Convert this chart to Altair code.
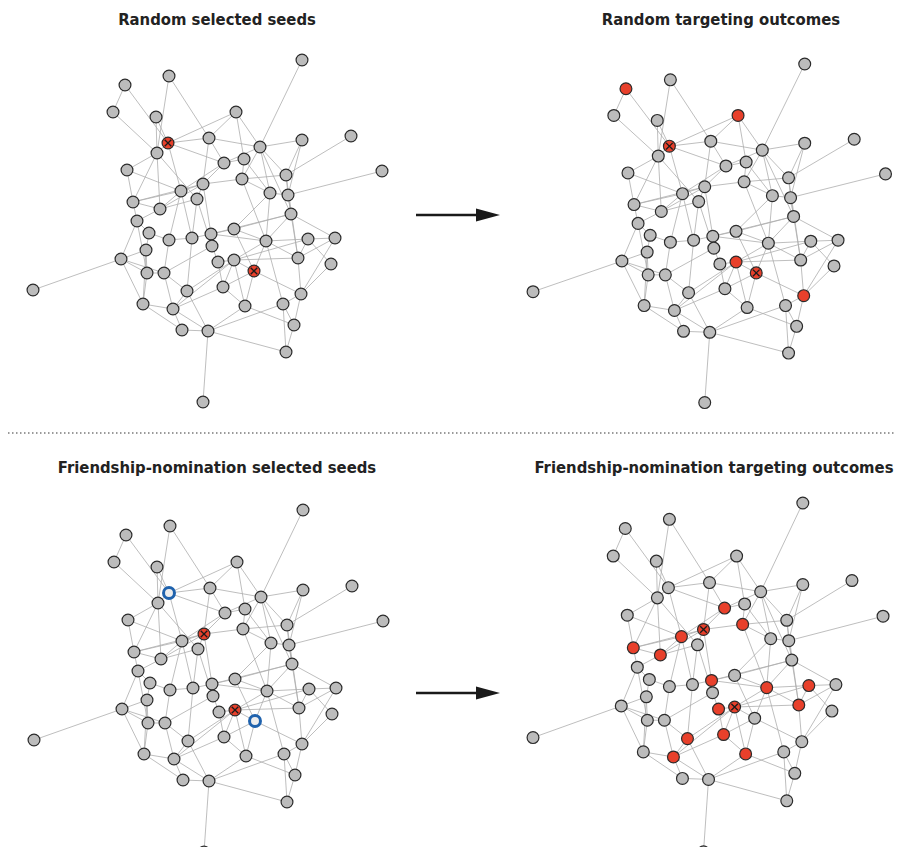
import altair as alt
import pandas as pd

# ---------------- data ----------------
NODE_X = [125,169,113,156,168,157,209,127,302,236,260,302,351,244,224,242,286,382,181,203,
          133,197,160,137,149,169,192,211,212,146,121,147,164,187,33,270,288,291,234,266,
          308,335,218,234,254,298,331,223,301,143,173,182,208,203,245,283,294,286]
NODE_Y = [85,76,112,117,143,153,138,170,60,112,147,140,136,159,163,179,175,171,191,184,
          202,199,209,221,233,240,238,234,246,250,259,273,273,291,290,193,195,214,229,241,
          239,238,262,260,271,258,264,287,294,304,309,330,331,402,306,304,325,352]

EDGE_A = [1,1,2,2,3,4,4,6,8,8,9,13,18,31,53,5,5,5,5,5,6,6,6,7,7,7,7,10,10,
          11,11,11,11,11,11,12,12,14,14,14,15,15,16,16,16,16,17,17,19,19,19,19,19,
          20,20,20,20,21,21,22,22,22,23,24,24,24,25,25,26,26,27,27,28,28,28,28,
          29,29,30,30,30,31,31,31,32,32,33,33,34,34,34,36,36,36,37,37,38,38,38,
          39,39,40,40,40,40,40,41,41,41,41,42,42,43,43,44,44,44,44,44,45,45,45,
          46,47,48,48,49,49,50,50,51,51,52,53,53,53,55,56,56,57]
EDGE_B = [3,5,6,7,6,5,6,8,21,19,11,17,37,35,54,7,10,19,15,6,21,23,22,10,11,15,20,11,14,
          12,15,16,36,38,17,17,37,16,36,15,19,20,17,20,36,40,46,37,20,21,26,27,23,
          22,28,21,23,23,24,23,27,29,24,25,31,32,26,30,27,33,28,34,29,40,38,39,
          43,33,31,32,50,32,33,50,33,50,34,51,51,53,44,37,39,40,38,46,39,40,42,
          40,45,41,45,46,56,44,42,46,47,44,46,49,44,48,45,55,46,48,51,48,49,55,
          49,49,55,51,56,57,51,52,52,53,53,55,56,58,57,57,58,58]

PANEL_KEYS = ["tl", "tr", "bl", "br"]
PANEL_TITLES = ["Random selected seeds", "Random targeting outcomes",
                "Friendship-nomination selected seeds",
                "Friendship-nomination targeting outcomes"]
SEEDS = {"tl": [5, 45], "tr": [5, 45], "bl": [20, 44], "br": [20, 44]}
ADOPTERS = {"tl": [], "tr": [1, 10, 44, 49], "bl": [],
            "br": [15, 16, 19, 21, 23, 28, 40, 41, 46, 43, 48, 34, 51, 55]}
RINGS = {"tl": [], "tr": [], "bl": [5, 45], "br": []}

# ---------------- layout (panel placement) ----------------
PLACE = {
    "tl": (0.0, 1.0, 0.0, 1.0),
    "tr": (499.7, 1.01, 4.6, 0.99),
    "bl": (1.0, 1.0, 450.0, 1.0),
    "br": (499.9, 1.003, 441.8, 1.02),
}
TITLE_POS = {"tl": (217, 20), "tr": (721, 20), "bl": (217, 468), "br": (714, 468)}

node_rows, edge_rows, title_rows = [], [], []
for key, title in zip(PANEL_KEYS, PANEL_TITLES):
    ax, bx, ay, by = PLACE[key]
    px = [ax + bx * v for v in NODE_X]
    py = [ay + by * v for v in NODE_Y]
    for a, b in zip(EDGE_A, EDGE_B):
        edge_rows.append({"x": px[a - 1], "y": py[a - 1], "x2": px[b - 1], "y2": py[b - 1]})
    for i in range(len(NODE_X)):
        nid = i + 1
        if nid in SEEDS[key]:
            st = "seed"
        elif nid in ADOPTERS[key]:
            st = "adopter"
        elif nid in RINGS[key]:
            st = "ring"
        else:
            st = "none"
        node_rows.append({"x": px[i], "y": py[i], "status": st})
    tx, ty = TITLE_POS[key]
    title_rows.append({"x": tx, "y": ty, "label": title})

edges = pd.DataFrame(edge_rows)
nodes = pd.DataFrame(node_rows)
titles = pd.DataFrame(title_rows)
arrows = pd.DataFrame({"x": [416, 416], "x2": [478, 478], "y": [215, 693], "hx": [488, 488]})
sep = pd.DataFrame({"x": [8], "x2": [894], "y": [433]})

W, H = 886, 834
XS = alt.Scale(domain=[8, 8 + W])
YS = alt.Scale(domain=[8, 8 + H], reverse=True)

def X(f="x"):
    return alt.X(f"{f}:Q", scale=XS, axis=None)

def Y(f="y"):
    return alt.Y(f"{f}:Q", scale=YS, axis=None)

edge_layer = alt.Chart(edges).mark_rule(color="#adadad", strokeWidth=0.8).encode(
    x=X(), y=Y(), x2="x2:Q", y2="y2:Q")

plain = alt.Chart(nodes).transform_filter("datum.status != 'ring'").mark_point(
    shape="circle", filled=True, size=140, stroke="#2b2b2b", strokeWidth=1.2, opacity=1
).encode(
    x=X(), y=Y(),
    fill=alt.Fill("status:N", legend=None,
                  scale=alt.Scale(domain=["none", "adopter", "seed"],
                                  range=["#bcbcbc", "#e8402b", "#e8402b"])))

ring = alt.Chart(nodes).transform_filter("datum.status == 'ring'").mark_point(
    shape="circle", filled=True, size=120, fill="#ededed", stroke="#1f62ad",
    strokeWidth=3, opacity=1).encode(x=X(), y=Y())

cross = alt.Chart(nodes).transform_filter("datum.status == 'seed'").mark_point(
    shape="M-0.55,-0.55L0.55,0.55M-0.55,0.55L0.55,-0.55", filled=False, size=144,
    stroke="#1a1a1a", strokeWidth=1.3, opacity=1).encode(x=X(), y=Y())

title_layer = alt.Chart(titles).mark_text(
    font="DejaVu Sans Condensed", fontWeight="bold", fontSize=16.5, color="#222222",
    align="center", baseline="middle").encode(x=X(), y=Y(), text="label:N")

shaft = alt.Chart(arrows).mark_rule(color="#1a1a1a", strokeWidth=2.5).encode(
    x=X(), x2="x2:Q", y=Y())
head = alt.Chart(arrows).mark_point(
    shape="M-1,-0.55L1,0L-1,0.55Z", filled=True, size=576, color="#1a1a1a",
    opacity=1).encode(x=X("hx"), y=Y())

sep_layer = alt.Chart(sep).mark_rule(color="#7a7a7a", strokeWidth=1.5,
                                     strokeDash=[1.5, 2.5]).encode(
    x=X(), x2="x2:Q", y=Y())

chart = alt.layer(edge_layer, plain, ring, cross, title_layer, shaft, head, sep_layer).properties(
    width=W, height=H,
    autosize=alt.AutoSizeParams(type="none"),
    padding={"left": 0, "top": 0, "right": 0, "bottom": 5},
).configure_view(stroke=None)

chart.save("out.html", embed_options={"renderer": "svg", "actions": False})
